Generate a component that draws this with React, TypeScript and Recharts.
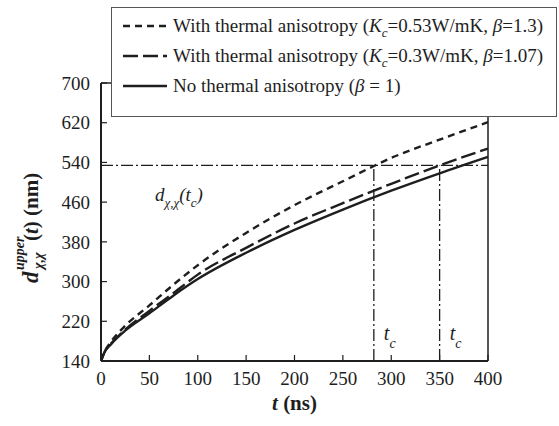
import { LineChart, Line, XAxis, YAxis, ReferenceLine, Legend } from 'recharts'

// ── Data ──────────────────────────────────────────────────────────────────────

const T_NS = [0, 4, 10, 25, 50, 75, 100, 150, 200, 250, 300, 350, 400]
const STRONG = [140, 160, 178, 211, 252, 294, 333, 398, 454, 502, 549, 586, 621] // Kc=0.53, beta=1.3
const WEAK = [140, 159, 174, 203, 241, 277, 314, 368, 417, 458, 497, 534, 568] // Kc=0.3, beta=1.07
const ISO = [140, 159, 173, 201, 236, 272, 305, 358, 404, 445, 483, 518, 551] // beta=1

const X_TICKS = [0, 50, 100, 150, 200, 250, 300, 350, 400]
const Y_TICKS = [140, 220, 300, 380, 460, 540, 620, 700]

const D_CRIT = 534
const TC_STRONG = 282
const TC_WEAK = 350

const data = T_NS.map((t, i) => ({ t, strong: STRONG[i], weak: WEAK[i], iso: ISO[i] }))

const INK = '#1e1e1e'
const FONT = "'Liberation Serif', serif"
const TICK = { fill: INK, fontSize: 19, fontFamily: FONT }
const DASHDOT = '12 3 2 3'

const SERIES = [
  { key: 'strong', dash: '7 5' },
  { key: 'weak', dash: '15 5' },
  { key: 'iso', dash: undefined as string | undefined },
]

// ── Labels ────────────────────────────────────────────────────────────────────

const Kc = () => (
  <>
    <i>K</i>
    <span style={{ fontSize: 13, position: 'relative', top: 5, fontStyle: 'italic' }}>c</span>
  </>
)

const LEGEND_TEXT: Record<string, JSX.Element> = {
  strong: <>With thermal anisotropy (<Kc />=0.53W/mK, <i>β</i>=1.3)</>,
  weak: <>With thermal anisotropy (<Kc />=0.3W/mK, <i>β</i>=1.07)</>,
  iso: <>No thermal anisotropy (<i>β</i> = 1)</>,
}

function LegendBox() {
  return (
    <div
      style={{
        boxSizing: 'border-box', width: 446, height: 110, background: '#fff',
        border: '1px solid #555', paddingTop: 3, fontFamily: FONT, fontSize: 19, color: INK,
      }}
    >
      {SERIES.map(s => (
        <div key={s.key} style={{ display: 'flex', alignItems: 'center', height: 30, whiteSpace: 'nowrap' }}>
          <svg width={44} height={10} style={{ marginLeft: 11, marginRight: 6, flexShrink: 0 }}>
            <line x1={0} y1={5} x2={44} y2={5} stroke={INK} strokeWidth={2.4} strokeDasharray={s.dash} />
          </svg>
          <span>{LEGEND_TEXT[s.key]}</span>
        </div>
      ))}
    </div>
  )
}

// eslint-disable-next-line @typescript-eslint/no-explicit-any
function YTitle({ viewBox }: any) {
  const cx = viewBox.x + viewBox.width - 63
  const cy = viewBox.y + viewBox.height / 2
  return (
    <g transform={`translate(${cx},${cy}) rotate(-90)`}>
      <text fontWeight="bold" fill={INK}>
        <tspan x={-61} y={0} fontSize={23} fontStyle="italic">d</tspan>
        <tspan x={-48} y={-14} fontSize={14} fontStyle="italic">upper</tspan>
        <tspan x={-47} y={5} fontSize={14} fontStyle="italic">χ,χ</tspan>
        <tspan x={-19} y={0} fontSize={21}>(</tspan>
        <tspan fontSize={21} fontStyle="italic">t</tspan>
        <tspan fontSize={21}>) (nm)</tspan>
      </text>
    </g>
  )
}

// eslint-disable-next-line @typescript-eslint/no-explicit-any
function XTitle({ viewBox }: any) {
  return (
    <text x={viewBox.x + viewBox.width / 2} y={viewBox.y + 49} textAnchor="middle"
      fontWeight="bold" fontSize={21} fill={INK}>
      <tspan fontStyle="italic">t</tspan>
      <tspan> (ns)</tspan>
    </text>
  )
}

// eslint-disable-next-line @typescript-eslint/no-explicit-any
function DcLabel({ viewBox }: any) {
  return (
    <text x={viewBox.x + 54} y={viewBox.y + 36} fontStyle="italic" fontSize={19} fill={INK}>
      <tspan>d</tspan>
      <tspan fontSize={13} dy={6}>χ,χ</tspan>
      <tspan fontSize={19} dy={-6}>(t</tspan>
      <tspan fontSize={13} dy={6}>c</tspan>
      <tspan fontSize={19} dy={-6}>)</tspan>
    </text>
  )
}

// eslint-disable-next-line @typescript-eslint/no-explicit-any
function TcLabel({ viewBox }: any) {
  return (
    <text x={viewBox.x + 10} y={viewBox.y + viewBox.height - 21} fontStyle="italic" fontSize={20} fill={INK}>
      <tspan>t</tspan>
      <tspan fontSize={14} dy={8}>c</tspan>
    </text>
  )
}

// ── Chart ─────────────────────────────────────────────────────────────────────

export default function App() {
  return (
    <div style={{ width: 559, height: 426, background: '#fff', fontFamily: FONT }}>
      <style>{"body{margin:0} .recharts-wrapper svg text{font-family:'Liberation Serif',serif}"}</style>
      <LineChart width={559} height={426} data={data} margin={{ top: 82, right: 70, bottom: 64, left: 100 }}>
        <XAxis
          dataKey="t" type="number" domain={[0, 400]} ticks={X_TICKS} interval={0} height={1}
          axisLine={{ stroke: INK, strokeWidth: 2 }} tickLine={{ stroke: INK, strokeWidth: 1.2 }}
          tickSize={-6} tickMargin={17} tick={TICK}
          label={{ content: (p) => <XTitle {...p} /> }}
        />
        <XAxis
          xAxisId="top" orientation="top" dataKey="t" type="number" domain={[0, 400]} ticks={X_TICKS}
          interval={0} height={1} axisLine={{ stroke: INK, strokeWidth: 1.5 }} tickLine={{ stroke: INK }}
          tickSize={-6} tickFormatter={() => ''}
        />
        <YAxis
          type="number" domain={[140, 700]} ticks={Y_TICKS} interval={0} width={1}
          axisLine={{ stroke: INK, strokeWidth: 2 }} tickLine={{ stroke: INK, strokeWidth: 1.2 }}
          tickSize={-6} tickMargin={17} tick={TICK}
          label={{ content: (p) => <YTitle {...p} /> }}
        />
        <YAxis
          yAxisId="right" orientation="right" type="number" domain={[140, 700]} ticks={Y_TICKS}
          interval={0} width={1} axisLine={{ stroke: INK, strokeWidth: 1.5 }} tickLine={{ stroke: INK }}
          tickSize={-6} tickFormatter={() => ''}
        />

        <ReferenceLine y={D_CRIT} stroke={INK} strokeWidth={1.3} strokeDasharray={DASHDOT}
          label={{ content: (p) => <DcLabel {...p} /> }} />
        <ReferenceLine segment={[{ x: TC_STRONG, y: 140 }, { x: TC_STRONG, y: D_CRIT }]}
          stroke={INK} strokeWidth={1.3} strokeDasharray={DASHDOT}
          label={{ content: (p) => <TcLabel {...p} /> }} />
        <ReferenceLine segment={[{ x: TC_WEAK, y: 140 }, { x: TC_WEAK, y: D_CRIT }]}
          stroke={INK} strokeWidth={1.3} strokeDasharray={DASHDOT}
          label={{ content: (p) => <TcLabel {...p} /> }} />

        {SERIES.map(s => (
          <Line key={s.key} type="monotone" dataKey={s.key} stroke={INK} strokeWidth={2.4}
            strokeDasharray={s.dash} dot={false} activeDot={false} isAnimationActive={false} />
        ))}

        <Legend content={() => <LegendBox />} layout="horizontal" verticalAlign="middle" align="center"
          wrapperStyle={{ left: 111, top: 7, width: 446, height: 110 }} />
      </LineChart>
    </div>
  )
}
